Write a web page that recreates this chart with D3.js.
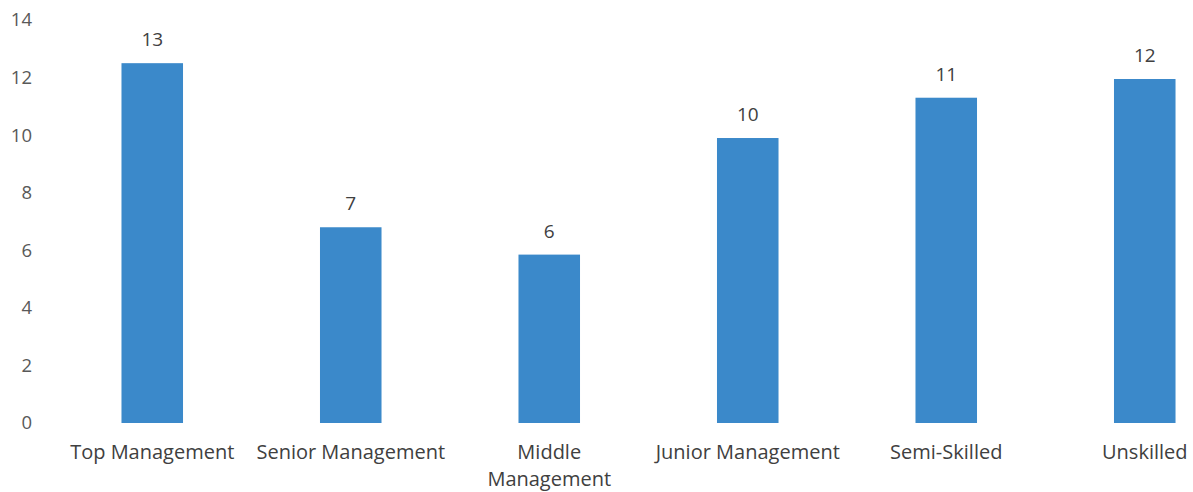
<!DOCTYPE html>
<html>
<head>
<meta charset="utf-8">
<script src="https://cdn.jsdelivr.net/npm/d3@7"></script>
<style>
  html, body { margin: 0; padding: 0; background: #fff; }
  svg { display: block; }
  text { font-family: "Open Sans", "Noto Sans", sans-serif; }
</style>
</head>
<body>
<svg id="chart" width="1193" height="492"></svg>
<script>
// Staff count by occupational level
const categories = ["Top Management", "Senior Management", "Middle\nManagement",
                    "Junior Management", "Semi-Skilled", "Unskilled"];
const values = [12.5, 6.8, 5.85, 9.9, 11.3, 11.95];
const yTicks = [0, 2, 4, 6, 8, 10, 12, 14];

const svg = d3.select("#chart");

const x = d3.scaleBand()
  .domain(categories)
  .range([53, 1244])
  .paddingInner(0.69)
  .paddingOuter(0.345);

const y = d3.scaleLinear()
  .domain([0, 14])
  .range([423, 20]);

// Value axis: labels only, no line or tick marks
const yAxis = svg.append("g")
  .attr("transform", "translate(32,0)")
  .call(d3.axisLeft(y).tickValues(yTicks).tickSize(0).tickPadding(0));
yAxis.select(".domain").remove();
yAxis.selectAll("text")
  .attr("fill", "#595959")
  .style("font-size", "18.5px")
  .style("font-family", "'Open Sans', sans-serif");

// Bars
const data = categories.map((c, i) => ({ c, v: values[i] }));
svg.append("g").selectAll("rect")
  .data(data)
  .join("rect")
  .attr("x", d => x(d.c))
  .attr("y", d => y(d.v))
  .attr("width", x.bandwidth())
  .attr("height", d => y(0) - y(d.v))
  .attr("fill", "#3b89ca");

// Data labels (rounded to whole numbers)
svg.append("g").selectAll("text")
  .data(data)
  .join("text")
  .attr("x", d => x(d.c) + x.bandwidth() / 2)
  .attr("y", d => y(d.v) - 17)
  .attr("text-anchor", "middle")
  .attr("fill", "#404040")
  .style("font-size", "19px")
  .text(d => d3.format(".0f")(d.v));

// Category labels, wrapped on newlines
const xAxis = svg.append("g")
  .attr("transform", `translate(0,${y(0)})`)
  .call(d3.axisBottom(x).tickSize(0).tickPadding(0).tickFormat(""));
xAxis.select(".domain").remove();
xAxis.selectAll(".tick").each(function(d) {
  const t = d3.select(this).append("text")
    .attr("fill", "#404040")
    .attr("text-anchor", "middle")
    .style("font-size", "20px")
    .style("font-family", "'Open Sans', sans-serif");
  d.split("\n").forEach((line, i) => {
    t.append("tspan")
      .attr("x", 0)
      .attr("y", 36 + i * 27)
      .text(line);
  });
});
</script>
</body>
</html>
